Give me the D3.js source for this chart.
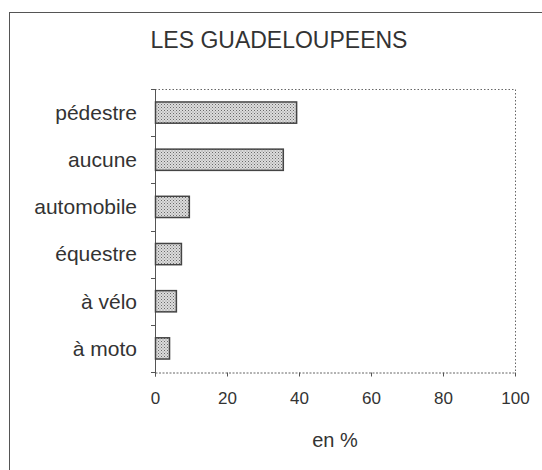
<!DOCTYPE html>
<html>
<head>
<meta charset="utf-8">
<script src="https://cdn.jsdelivr.net/npm/d3@7"></script>
<style>
  body { margin: 0; background: white; }
  text { font-family: "Liberation Sans", Arial, sans-serif; fill: #333; }
</style>
</head>
<body>
<div id="chart-area"></div>
<script>
const categories = ["pédestre", "aucune", "automobile", "équestre", "à vélo", "à moto"]
const values = [39.2, 35.5, 9.4, 7.2, 5.8, 3.9]
const xTicks = [0, 20, 40, 60, 80, 100]

const W = 542, H = 470
const margin = {left: 155, right: 27, top: 89, bottom: 98}
const width = W - margin.left - margin.right,
    height = H - margin.top - margin.bottom

const svg = d3.select("#chart-area").append("svg")
    .attr("width", W)
    .attr("height", H)

// dotted fill for bars
const pat = svg.append("defs").append("pattern")
    .attr("id", "dots")
    .attr("width", 3).attr("height", 3)
    .attr("patternUnits", "userSpaceOnUse")
pat.append("rect").attr("width", 3).attr("height", 3).attr("fill", "#dcdcdc")
pat.append("rect").attr("width", 1).attr("height", 1).attr("fill", "#6a6a6a")
pat.append("rect").attr("x", 1.5).attr("y", 1.5).attr("width", 1).attr("height", 1).attr("fill", "#8a8a8a")

// outer frame
svg.append("rect")
    .attr("x", 9.5).attr("y", 12.5)
    .attr("width", W).attr("height", H)
    .attr("fill", "none")
    .attr("stroke", "#555")
    .attr("stroke-width", 1)

svg.append("text")
    .attr("x", 279)
    .attr("y", 48)
    .attr("text-anchor", "middle")
    .attr("font-size", "23px")
    .text("LES GUADELOUPEENS")

const g = svg.append("g")
    .attr("transform", `translate(${margin.left}, ${margin.top})`)

const x = d3.scaleLinear()
    .domain([0, 100])
    .range([0, width])

const y = d3.scaleBand()
    .domain(categories)
    .range([0, height])
    .paddingInner(0.55)
    .paddingOuter(0.275)

// plot frame (dotted top/right)
g.append("path")
    .attr("d", `M0,0.5H${width + 0.5}V${height}`)
    .attr("fill", "none")
    .attr("stroke", "#666")
    .attr("stroke-dasharray", "1.5,2")

// bottom axis
const xAxisCall = d3.axisBottom(x)
    .tickValues(xTicks)
    .tickSize(4)
    .tickPadding(15)

const xAxis = g.append("g")
    .attr("class", "x axis")
    .attr("transform", `translate(0, ${height + 0.5})`)
    .call(xAxisCall)
xAxis.select(".domain").attr("stroke", "#666").attr("stroke-dasharray", "2,1.5")
xAxis.selectAll("line").attr("stroke", "#555")
xAxis.selectAll("text")
    .attr("font-size", "17px")
    .attr("fill", "#333")
    .attr("font-family", "Liberation Sans, Arial, sans-serif")

// left axis: ticks at band boundaries
const boundaries = d3.range(categories.length + 1).map(i => i * height / categories.length)
g.append("line")
    .attr("x1", 0.5).attr("x2", 0.5)
    .attr("y1", 0).attr("y2", height + 4)
    .attr("stroke", "#555")
g.selectAll(".ytick").data(boundaries)
    .join("line")
    .attr("class", "ytick")
    .attr("x1", -4).attr("x2", 0.5)
    .attr("y1", d => Math.round(d) + 0.5)
    .attr("y2", d => Math.round(d) + 0.5)
    .attr("stroke", "#555")

g.selectAll(".ylabel").data(categories)
    .join("text")
    .attr("class", "ylabel")
    .attr("x", -18)
    .attr("y", d => y(d) + y.bandwidth() / 2)
    .attr("dy", "0.35em")
    .attr("text-anchor", "end")
    .attr("font-size", "21px")
    .text(d => d)

// bars
g.selectAll(".bar").data(values)
    .join("rect")
    .attr("class", "bar")
    .attr("x", 0.5)
    .attr("y", (d, i) => y(categories[i]))
    .attr("width", d => x(d))
    .attr("height", y.bandwidth())
    .attr("fill", "url(#dots)")
    .attr("stroke", "#444")
    .attr("stroke-width", 1.5)

// X label
g.append("text")
    .attr("x", width / 2)
    .attr("y", height + 75)
    .attr("text-anchor", "middle")
    .attr("font-size", "20px")
    .text("en %")
</script>
</body>
</html>
